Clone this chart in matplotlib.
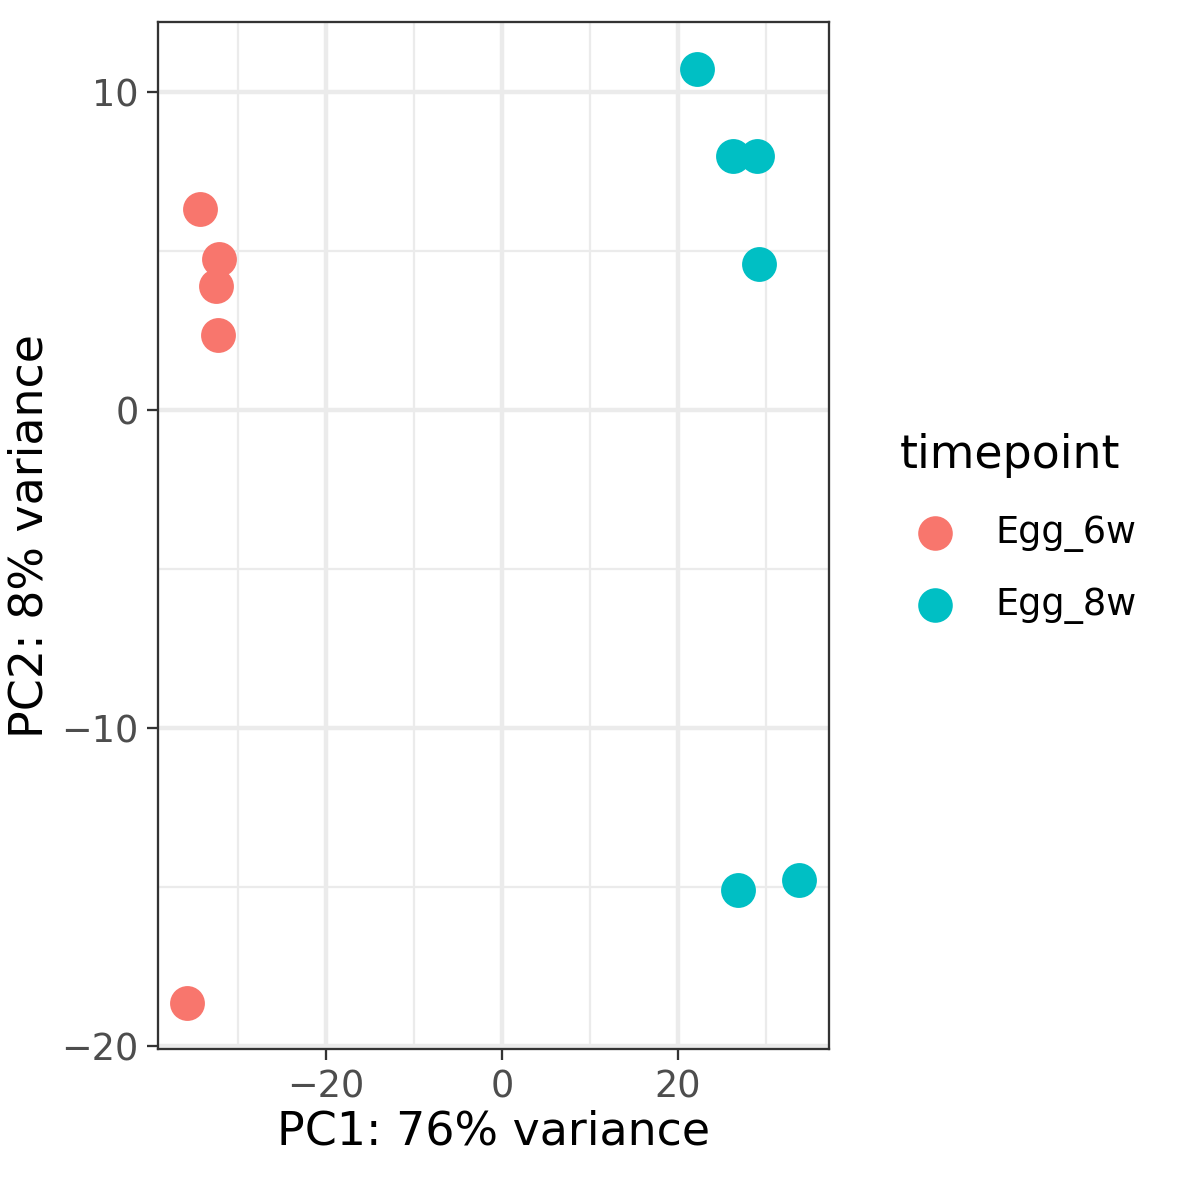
import matplotlib.pyplot as plt
from matplotlib.lines import Line2D

# PCA coordinates
pc1_6w = [-34.3, -32.2, -32.5, -32.3, -35.8]
pc2_6w = [6.32, 4.75, 3.9, 2.36, -18.65]
pc1_8w = [22.2, 26.25, 29.0, 29.2, 26.8, 33.75]
pc2_8w = [10.72, 7.99, 7.99, 4.59, -15.1, -14.8]
groups = ['Egg_6w', 'Egg_8w']
colors = ['#F8766D', '#00BFC4']

fig = plt.figure(figsize=(1181/300, 1181/300), dpi=300)
ax = fig.add_axes([158/1181, 1 - 1049/1181, (829-158)/1181, (1049-22)/1181])

ax.set_xlim(-39.1, 37.2)
ax.set_ylim(-20.1, 12.2)
ax.set_xticks([-20, 0, 20])
ax.set_yticks([-20, -10, 0, 10])
ax.set_xticks([-30, -10, 10, 30], minor=True)
ax.set_yticks([-15, -5, 5], minor=True)
ax.grid(True, which='major', color='#EBEBEB', lw=1.07)
ax.grid(True, which='minor', color='#EBEBEB', lw=0.53)
ax.set_axisbelow(True)
for s in ax.spines.values():
    s.set_color('#333333')
    s.set_linewidth(0.55)
ax.tick_params(which='major', length=2.7, width=0.55, color='#333333',
               labelsize=8.8, labelcolor='#4D4D4D', pad=2)
ax.tick_params(which='minor', length=0)

ax.scatter(pc1_6w, pc2_6w, s=70, color=colors[0], lw=0, zorder=3)
ax.scatter(pc1_8w, pc2_8w, s=70, color=colors[1], lw=0, zorder=3)

ax.set_xlabel('PC1: 76% variance', fontsize=11, labelpad=1)
ax.set_ylabel('PC2: 8% variance', fontsize=11, labelpad=2)

# legend
fig.text(900/1181, 1 - 455/1181, 'timepoint', fontsize=11, va='center', ha='left')
for i, (g, c) in enumerate(zip(groups, colors)):
    yy = 1 - (533 + 72*i)/1181
    fig.add_artist(Line2D([935/1181], [yy], marker='o', ms=8.3, color=c,
                          mew=0, transform=fig.transFigure))
    fig.text(995/1181, yy, g, fontsize=8.8, va='center', ha='left')

fig.savefig('out.png', dpi=300)
